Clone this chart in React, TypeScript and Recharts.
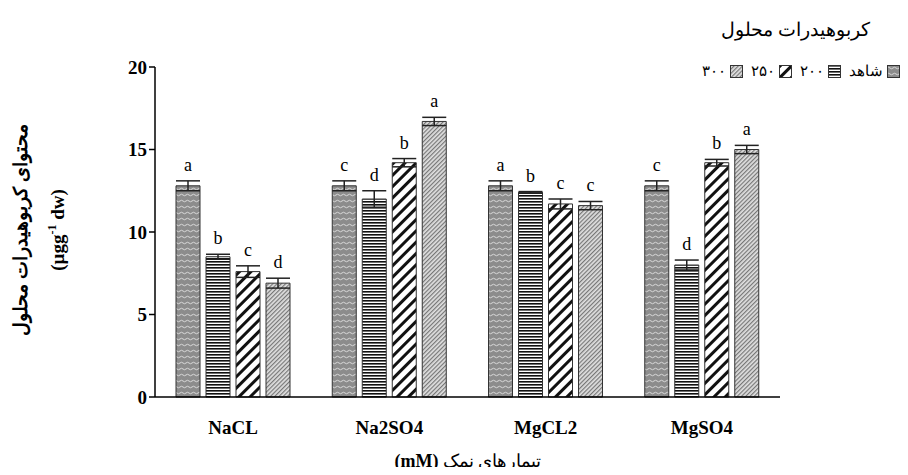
import { BarChart, Bar, XAxis, YAxis, ErrorBar, LabelList } from "recharts";

const categories = ["NaCL", "Na2SO4", "MgCL2", "MgSO4"];
const control = [12.8, 12.8, 12.8, 12.8];
const s200 = [8.5, 12.0, 12.4, 8.0];
const s250 = [7.6, 14.2, 11.7, 14.2];
const s300 = [6.9, 16.7, 11.6, 15.0];
const errControl = [0.3, 0.3, 0.3, 0.3];
const err200 = [0.15, 0.5, 0.05, 0.3];
const err250 = [0.35, 0.25, 0.3, 0.2];
const err300 = [0.3, 0.25, 0.25, 0.25];
const letControl = ["a", "c", "a", "c"];
const let200 = ["b", "d", "b", "d"];
const let250 = ["c", "b", "c", "b"];
const let300 = ["d", "a", "c", "a"];
const yTicks = [0, 5, 10, 15, 20];

const data = categories.map((c, i) => ({
  name: c,
  c0: control[i], e0: errControl[i], l0: letControl[i],
  c1: s200[i], e1: err200[i], l1: let200[i],
  c2: s250[i], e2: err250[i], l2: let250[i],
  c3: s300[i], e3: err300[i], l3: let300[i],
}));

const serif = "'Liberation Serif', 'DejaVu Serif', serif";

const letterLabel = (errKey: string) => (props: any) => {
  const { x, y, width, value, index } = props;
  const err = (data[index] as any)[errKey];
  const dy = err * 16.5 + 10;
  return (
    <text x={x + width / 2} y={y - dy} textAnchor="middle" fontFamily={serif} fontSize={18}>
      {value}
    </text>
  );
};

const series = [
  { key: "c0", e: "e0", l: "l0", fill: "url(#pDots)" },
  { key: "c1", e: "e1", l: "l1", fill: "url(#pHoriz)" },
  { key: "c2", e: "e2", l: "l2", fill: "url(#pDiag)" },
  { key: "c3", e: "e3", l: "l3", fill: "url(#pFine)" },
];

export default function App() {
  return (
    <div style={{ position: "relative", width: 908, height: 475, margin: -8, background: "#fff", fontFamily: serif }}>
      <BarChart width={908} height={475} data={data} margin={{ top: 67, right: 128, bottom: 48, left: 115 }}
        barSize={24} barGap={6} barCategoryGap={21}>
        <defs>
          <pattern id="pDots" width="6" height="6" patternUnits="userSpaceOnUse">
            <rect width="6" height="6" fill="#8c8c8c" />
            <path d="M0 3 Q1.5 1.5 3 3 T6 3" stroke="#d8d8d8" strokeWidth="1" fill="none" />
          </pattern>
          <pattern id="pHoriz" width="4" height="3" patternUnits="userSpaceOnUse">
            <rect width="4" height="3" fill="#fff" />
            <rect width="4" height="1.6" fill="#111" />
          </pattern>
          <pattern id="pDiag" width="8" height="8" patternUnits="userSpaceOnUse" patternTransform="rotate(45)">
            <rect width="8" height="8" fill="#fff" />
            <rect width="3" height="8" fill="#111" />
          </pattern>
          <pattern id="pFine" width="3" height="3" patternUnits="userSpaceOnUse" patternTransform="rotate(45)">
            <rect width="3" height="3" fill="#e0e0e0" />
            <rect width="1.2" height="3" fill="#777" />
          </pattern>
        </defs>
        <XAxis dataKey="name" axisLine={{ stroke: "#000", strokeWidth: 1.5 }} tickLine={false}
          tick={{ fill: "#000", fontSize: 19, fontWeight: "bold", fontFamily: serif }} tickMargin={18} />
        <XAxis xAxisId="b" type="number" domain={[0, 4]} ticks={[0, 1, 2, 3, 4]}
          axisLine={false} tick={false} tickLine={{ stroke: "#000", strokeWidth: 1.5 }} tickSize={7} height={0} />
        <YAxis width={40} domain={[0, 20]} ticks={yTicks} axisLine={{ stroke: "#000", strokeWidth: 1.5 }}
          tickLine={{ stroke: "#000", strokeWidth: 1.5 }} tickSize={6}
          tick={{ fill: "#000", fontSize: 19, fontWeight: "bold", fontFamily: serif }} />
        {series.map((s) => (
          <Bar key={s.key} dataKey={s.key} fill={s.fill} stroke="#333" strokeWidth={1} isAnimationActive={false}>
            <ErrorBar dataKey={s.e} width={12} stroke="#222" strokeWidth={1.5} />
            <LabelList dataKey={s.l} content={letterLabel(s.e)} />
          </Bar>
        ))}
      </BarChart>
      <div style={{ position: "absolute", right: 38, top: 18, fontSize: 19, direction: "rtl" }}>کربوهیدرات محلول</div>
      <div style={{ position: "absolute", right: 8, top: 62, fontSize: 15, display: "flex", alignItems: "center", gap: 4 }}>
        <span>۳۰۰</span><Swatch id="pFine" /><span style={{ marginLeft: 4 }}>۲۵۰</span><Swatch id="pDiag" />
        <span style={{ marginLeft: 4 }}>۲۰۰</span><Swatch id="pHoriz" /><span style={{ marginLeft: 4 }}>شاهد</span><Swatch id="pDots" />
      </div>
      <div style={{ position: "absolute", left: 20, top: 230, transform: "translate(-50%,-50%) rotate(-90deg)", whiteSpace: "nowrap", fontSize: 19, fontWeight: "bold", direction: "rtl" }}>
        محتوای کربوهیدرات محلول
      </div>
      <div style={{ position: "absolute", left: 57, top: 230, transform: "translate(-50%,-50%) rotate(-90deg)", whiteSpace: "nowrap", fontSize: 19, fontWeight: "bold" }}>
        (µgg<sup style={{ fontSize: 12 }}>-1</sup> dw)
      </div>
      <div style={{ position: "absolute", left: 468, top: 461, transform: "translate(-50%,-50%)", whiteSpace: "nowrap", fontSize: 18, direction: "rtl" }}>
        تیمارهای نمک <b>(mM)</b>
      </div>
    </div>
  );
}

function Swatch({ id }: { id: string }) {
  return (
    <svg width={13} height={13}>
      <rect x={0.5} y={0.5} width={12} height={12} fill={`url(#${id})`} stroke="#333" />
    </svg>
  );
}
